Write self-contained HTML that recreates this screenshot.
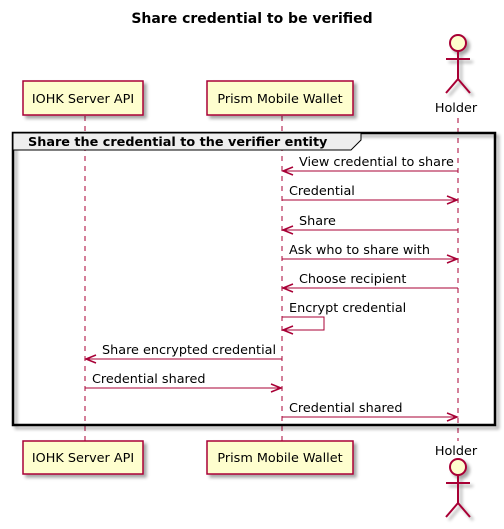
<!DOCTYPE html>
<html><head><style>
html,body{margin:0;padding:0;background:#fff;}
svg{display:block;}
text{font-family:"DejaVu Sans","Liberation Sans",sans-serif;font-size:12.8px;fill:#000;}
</style></head><body>
<svg width="504" height="529" viewBox="0 0 504 529" xmlns="http://www.w3.org/2000/svg">
<defs>
<filter id="sh" x="-20%" y="-20%" width="150%" height="150%"><feGaussianBlur in="SourceAlpha" stdDeviation="1.5"/><feOffset dx="3" dy="3"/><feComponentTransfer><feFuncA type="linear" slope="0.35"/></feComponentTransfer><feMerge><feMergeNode/><feMergeNode in="SourceGraphic"/></feMerge></filter>
</defs>
<text x="252" y="23" text-anchor="middle" font-weight="bold" style="font-size:14px">Share credential to be verified</text>
<g stroke="#A80036" stroke-width="1" stroke-dasharray="5,5">
<line x1="85" y1="116" x2="85" y2="441"/>
<line x1="282" y1="116" x2="282" y2="441"/>
<line x1="458" y1="118" x2="458" y2="441"/>
</g>
<g fill="#FEFECE" stroke="#A80036" stroke-width="1.5" filter="url(#sh)">
<rect x="23" y="81" width="120" height="34"/>
<rect x="207" y="81" width="146" height="34"/>
<rect x="23" y="441" width="120" height="33"/>
<rect x="207" y="441" width="146" height="33"/>
</g>
<text x="83" y="103" text-anchor="middle">IOHK Server API</text>
<text x="280" y="103" text-anchor="middle">Prism Mobile Wallet</text>
<text x="83" y="462" text-anchor="middle">IOHK Server API</text>
<text x="280" y="462" text-anchor="middle">Prism Mobile Wallet</text>
<g fill="none" stroke="#A80036" stroke-width="2" filter="url(#sh)">
<circle cx="458" cy="43" r="8" fill="#FEFECE"/>
<path d="M458 51 V79 M446 59 H470 M446 93 L458 79 L470 93"/>
<circle cx="458" cy="467" r="8" fill="#FEFECE"/>
<path d="M458 475 V503 M446 483 H470 M446 517 L458 503 L470 517"/>
</g>
<text x="456" y="112" text-anchor="middle">Holder</text>
<text x="456" y="455" text-anchor="middle">Holder</text>
<rect x="13" y="133" width="482" height="292" fill="none" stroke="#000" stroke-width="2.5" filter="url(#sh)"/>
<path d="M13 133 H361 V140 L351 150 H13 Z" fill="#EEEEEE" stroke="#000" stroke-width="1"/>
<text x="28" y="146" font-weight="bold">Share the credential to the verifier entity</text>
<g stroke="#A80036" stroke-width="1" fill="none">
<line x1="283" y1="171" x2="458" y2="171"/>
<line x1="282" y1="200" x2="457" y2="200"/>
<line x1="283" y1="230" x2="458" y2="230"/>
<line x1="282" y1="259" x2="457" y2="259"/>
<line x1="283" y1="288" x2="458" y2="288"/>
<path d="M282 317 H324 V330 H283"/>
<line x1="86" y1="359" x2="282" y2="359"/>
<line x1="85" y1="388" x2="281" y2="388"/>
<line x1="282" y1="417" x2="457" y2="417"/>
</g>
<g fill="none" stroke="#A80036" stroke-width="1.5">
<path d="M293 167 L283 171 L293 175"/>
<path d="M447 196 L457 200 L447 204"/>
<path d="M293 226 L283 230 L293 234"/>
<path d="M447 255 L457 259 L447 263"/>
<path d="M293 284 L283 288 L293 292"/>
<path d="M293 326 L283 330 L293 334"/>
<path d="M96 355 L86 359 L96 363"/>
<path d="M271 384 L281 388 L271 392"/>
<path d="M447 413 L457 417 L447 421"/>
</g>
<g>
<text x="299" y="166">View credential to share</text>
<text x="289" y="195">Credential</text>
<text x="299" y="225">Share</text>
<text x="289" y="254">Ask who to share with</text>
<text x="299" y="283">Choose recipient</text>
<text x="289" y="312">Encrypt credential</text>
<text x="102" y="354">Share encrypted credential</text>
<text x="92" y="383">Credential shared</text>
<text x="289" y="412">Credential shared</text>
</g>
</svg>
</body></html>
